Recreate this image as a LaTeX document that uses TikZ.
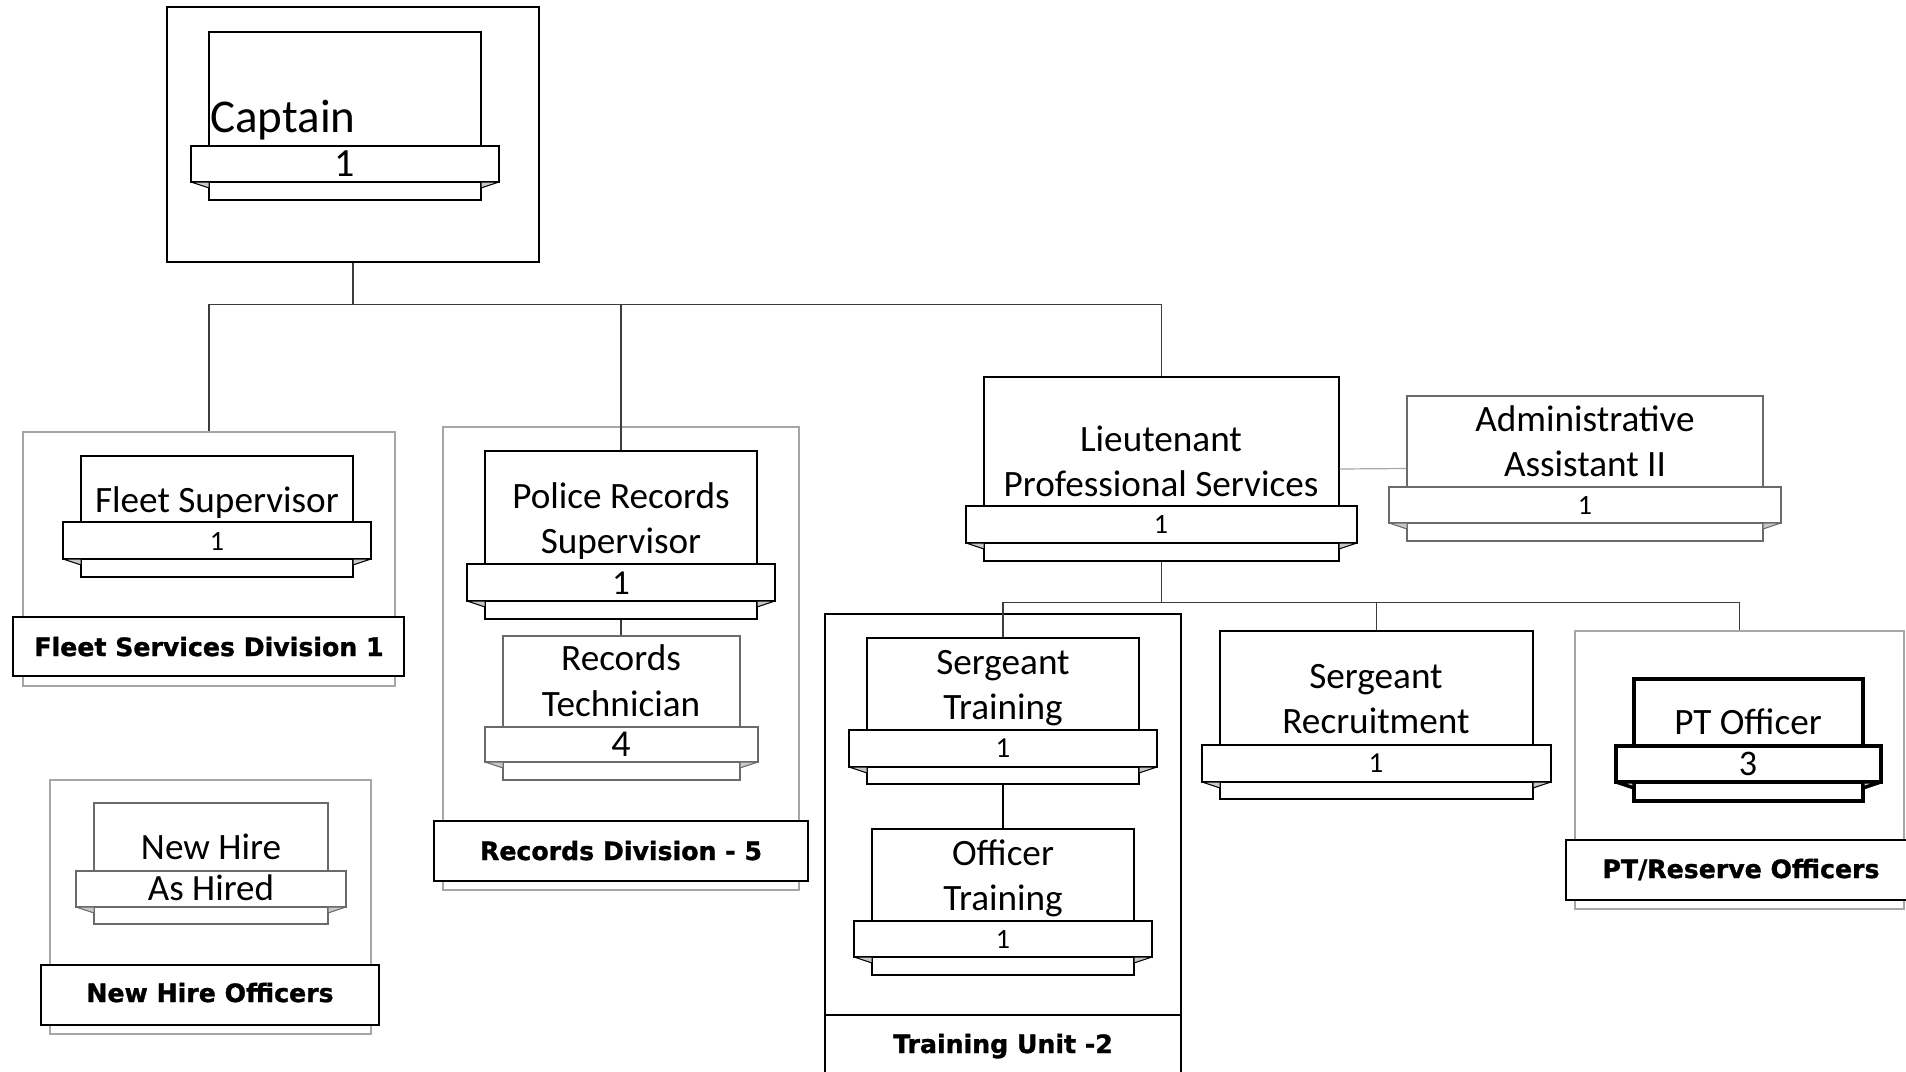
\documentclass[tikz,border=0pt]{standalone}
\usepackage{fontspec}
\setmainfont{Carlito}
\newfontfamily\lblfont{DejaVu Sans}[BoldFeatures={FakeBold=1.2}]
\usetikzlibrary{fit}
\definecolor{grpgray}{HTML}{A6A6A6}
\definecolor{cardgray}{HTML}{6A6A6A}
\definecolor{foldgray}{HTML}{C8C8C8}
\definecolor{conncol}{HTML}{3C3C3C}
\tikzset{
  grpbox/.style={draw=grpgray, line width=0.6pt, fill=white, inner sep=0pt},
  lblbox/.style={draw=black, line width=0.8pt, fill=white, inner sep=0pt},
  cardbox/.style={draw=black, line width=0.7pt, fill=white, inner sep=0pt},
  foldtri/.style={fill=foldgray, draw=black, line width=0.5pt, line join=bevel},
  soft/.style={draw=cardgray},
  heavy/.style={line width=1.7pt},
  conn/.style={draw=conncol, line width=0.6pt},
  ttl/.style={font=\fontsize{18.6}{22}\selectfont, inner sep=0pt, anchor=base},
  num/.style={font=\fontsize{#1}{#1}\selectfont, inner sep=0pt, anchor=center},
  lbl/.style={font=\lblfont\bfseries\fontsize{12.6}{14}\selectfont, inner sep=0pt, anchor=base},
}
% #1 style, #2 name, #3 L, #4 T, #5 R, #6 B, #7 ribbon top, #8 ribbon bottom
\newcommand\orgcard[8]{%
  \node[cardbox,#1,fit={(#3,#4) (#5,#6)}] (#2) {};
  \node[cardbox,#1,fit={({#3-18},#7) ({#5+18},#8)}] (#2-rib) {};
  \draw[foldtri,#1] ({#3-18},#8) -- (#3,#8) -- (#3,{#8+6}) -- cycle;
  \draw[foldtri,#1] ({#5+18},#8) -- (#5,#8) -- (#5,{#8+6}) -- cycle;
}
\begin{document}
\begin{tikzpicture}[x=0.5pt,y=-0.5pt]
\useasboundingbox (0,0) rectangle (1906,1071);
\clip (0,0) rectangle (1906,1071);

% ---------- Captain ----------
\node[cardbox, fit={(167,7) (539,262)}] (capbox) {};
\orgcard{}{cap}{209}{32}{481}{200}{146}{182}
\node[font=\fontsize{23.5}{26}\selectfont, inner sep=0pt, anchor=base west] (cap-t) at (210,132) {Captain};
\node[num=20] (cap-n) at (345,164) {1};

% ---------- Fleet ----------
\node[grpbox, fit={(23,432) (395,686)}] (fleetgrp) {};
\orgcard{}{fleet}{81}{456}{353}{577}{522}{559}
\node[ttl] (fleet-t) at (217,512) {Fleet Supervisor};
\node[num=14] (fleet-n) at (217,541) {1};
\node[lblbox, fit={(13,617) (404,676)}] (fleetlbl) {};
\node[lbl] (fleetlbl-t) at (209,656) {Fleet Services Division 1};

% ---------- Records ----------
\node[grpbox, fit={(443,427) (799,890)}] (recgrp) {};
\orgcard{}{prs}{485}{451}{757}{619}{564}{601}
\node[ttl] (prs-t1) at (621,508) {Police Records};
\node[ttl] (prs-t2) at (621,553) {Supervisor};
\node[num=17.5] (prs-n) at (621,583) {1};
\draw[conn] (prs.south) -- (prs.south |- 0,636);
\orgcard{soft}{rt}{503}{636}{740}{780}{727}{762}
\node[ttl] (rt-t1) at (621,670) {Records};
\node[ttl] (rt-t2) at (621,716) {Technician};
\node[num=19] (rt-n) at (621,744) {4};
\node[lblbox, fit={(434,821) (808,881)}] (reclbl) {};
\node[lbl] (reclbl-t) at (621,860) {Records Division - 5};

% ---------- New Hire ----------
\node[grpbox, fit={(50,780) (371,1034)}] (nhgrp) {};
\orgcard{soft}{nh}{94}{803}{328}{924}{871}{907}
\node[ttl] (nh-t) at (211,859) {New Hire};
\node[font=\fontsize{18.5}{20}\selectfont, inner sep=0pt, anchor=base] (nh-n) at (211,900) {As Hired};
\node[lblbox, fit={(41,965) (379,1025)}] (nhlbl) {};
\node[lbl] (nhlbl-t) at (210,1002) {New Hire Officers};

% ---------- Lieutenant & Admin ----------
\orgcard{}{lt}{984}{377}{1339}{561}{506}{543}
\node[ttl] (lt-t1) at (1161,451) {Lieutenant};
\node[ttl] (lt-t2) at (1161,496) {Professional Services};
\node[num=14] (lt-n) at (1161,524) {1};
\orgcard{soft}{adm}{1407}{396}{1763}{541}{487}{523}
\node[ttl] (adm-t1) at (1585,431) {Administrative};
\node[ttl] (adm-t2) at (1585,476) {Assistant II};
\node[num=14] (adm-n) at (1585,505) {1};
\draw[conn, draw=grpgray] (lt.east) -- (adm.west);

% ---------- Training Unit ----------
\node[cardbox, fit={(825,614) (1181,1100)}] (trgrp) {};
\node[cardbox, fit={(825,1015) (1181,1100)}] (trlbl) {};
\node[lbl] (trlbl-t) at (1003,1053) {Training Unit -2};
\orgcard{}{st}{867}{638}{1139}{784}{730}{767}
\node[ttl] (st-t1) at (1003,674) {Sergeant};
\node[ttl] (st-t2) at (1003,719) {Training};
\node[num=14.5] (st-n) at (1003,748) {1};
\orgcard{}{ot}{872}{829}{1134}{975}{921}{957}
\node[ttl] (ot-t1) at (1003,865) {Officer};
\node[ttl] (ot-t2) at (1003,910) {Training};
\node[num=14] (ot-n) at (1003,939) {1};
\draw[conn, draw=black, line width=1.1pt] (st.south) -- (ot.north);

% ---------- Sergeant Recruitment ----------
\orgcard{}{sr}{1220}{631}{1533}{799}{745}{782}
\node[ttl] (sr-t1) at (1376,688) {Sergeant};
\node[ttl] (sr-t2) at (1376,733) {Recruitment};
\node[num=14.5] (sr-n) at (1376,763) {1};

% ---------- PT / Reserve ----------
\node[grpbox, fit={(1575,631) (1904,909)}] (ptgrp) {};
\orgcard{heavy}{pt}{1634}{679}{1863}{801}{746}{782}
\node[ttl] (pt-t) at (1748,734) {PT Officer};
\node[num=18] (pt-n) at (1748,764) {3};
\node[lblbox, fit={(1566,840) (1915,900)}] (ptlbl) {};
\node[lbl] (ptlbl-t) at (1741,878) {PT/Reserve Officers};

% ---------- connectors ----------
\draw[conn] (capbox.south) -- ++(0,42) -| (fleetgrp.north);
\draw[conn] (capbox.south) -- ++(0,42) -| (prs.north);
\draw[conn] (capbox.south) -- ++(0,42) -| (lt.north);
\draw[conn] (lt.south) -- ++(0,41) -| (st.north);
\draw[conn] (lt.south) -- ++(0,41) -| (sr.north);
\draw[conn] (lt.south) -- ++(0,41) -| (ptgrp.north);
\end{tikzpicture}
\end{document}
